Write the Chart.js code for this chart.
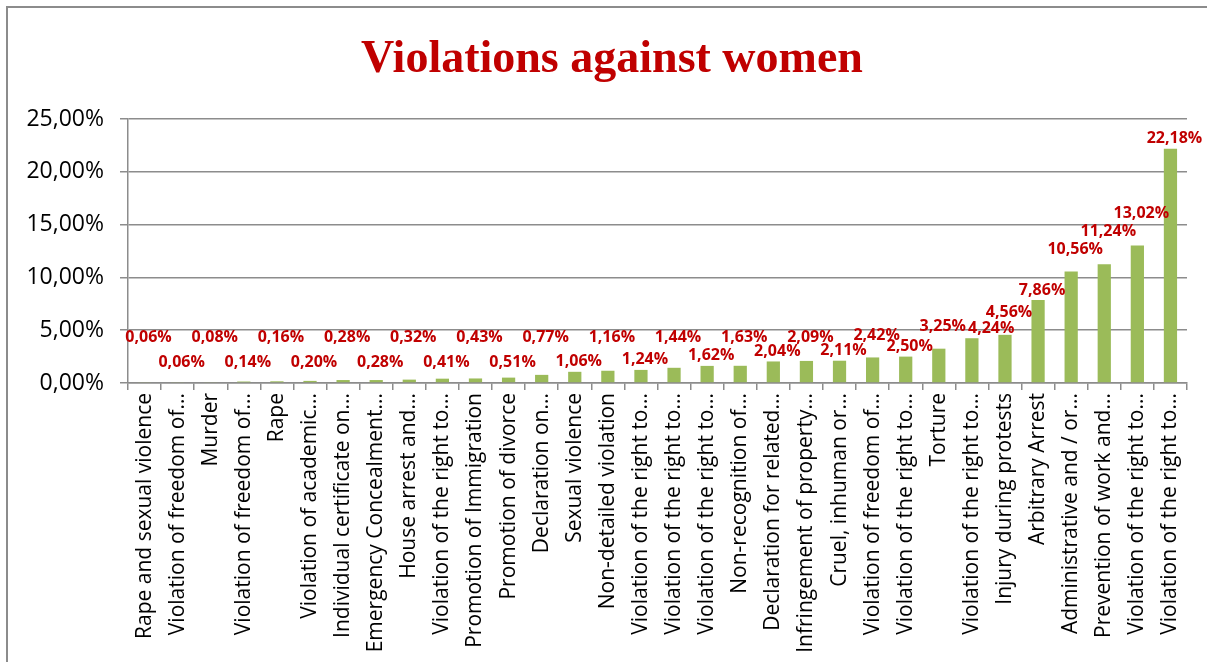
<!DOCTYPE html>
<html>
<head>
<meta charset="utf-8">
<script src="https://cdn.jsdelivr.net/npm/chart.js@4/dist/chart.umd.min.js"></script>
<style>
  html, body { margin: 0; padding: 0; background: #fff; overflow: hidden; }
</style>
</head>
<body>
<canvas id="women-chart" width="1207" height="662"></canvas>
<script>
// categories as shown on the axis (Excel truncated the long ones)
const categories = [
    'Rape and sexual violence', 'Violation of freedom of...', 'Murder', 'Violation of freedom of...',
    'Rape', 'Violation of academic...', 'Individual certificate on...', 'Emergency Concealment...',
    'House arrest and...', 'Violation of the right to...', 'Promotion of Immigration', 'Promotion of divorce',
    'Declaration on...', 'Sexual violence', 'Non-detailed violation', 'Violation of the right to...',
    'Violation of the right to...', 'Violation of the right to...', 'Non-recognition of...', 'Declaration for related...',
    'Infringement of property...', 'Cruel, inhuman or...', 'Violation of freedom of...', 'Violation of the right to...',
    'Torture', 'Violation of the right to...', 'Injury during protests', 'Arbitrary Arrest',
    'Administrative and / or...', 'Prevention of work and...', 'Violation of the right to...', 'Violation of the right to...'
];

const percentages = [
    0.06, 0.06, 0.08, 0.14, 0.16, 0.20, 0.28, 0.28,
    0.32, 0.41, 0.43, 0.51, 0.77, 1.06, 1.16, 1.24,
    1.44, 1.62, 1.63, 2.04, 2.09, 2.11, 2.42, 2.50,
    3.25, 4.24, 4.56, 7.86, 10.56, 11.24, 13.02, 22.18
];

const yTicks = [0, 5, 10, 15, 20, 25];

const chartTitle = 'Violations against women';

const fmt = v => v.toFixed(2).replace('.', ',') + '%';

// white background, frame and title (drawn by hand so it sits where Excel put it)
const framePlugin = {
    id: 'frame',
    beforeDraw(chart) {
        const ctx = chart.ctx;
        ctx.save();
        ctx.fillStyle = '#fff';
        ctx.fillRect(0, 0, chart.width, chart.height);
        ctx.strokeStyle = '#8c8c8c';
        ctx.lineWidth = 2;
        ctx.strokeRect(7, 7, chart.width + 40, chart.height + 40);

        ctx.font = 'bold 46px "Liberation Serif", "Times New Roman", serif';
        ctx.fillStyle = '#C00000';
        ctx.textAlign = 'center';
        ctx.textBaseline = 'alphabetic';
        ctx.fillText(chartTitle, 612, 72);
        ctx.restore();
    }
};

// value labels, staggered up / down like Excel did, moved when they collide
const valueLabels = {
    id: 'valueLabels',
    afterDatasetsDraw(chart) {
        const ctx = chart.ctx;
        const meta = chart.getDatasetMeta(0);
        const zero = chart.scales.y.getPixelForValue(0);
        ctx.save();
        ctx.font = 'bold 16px "Open Sans"';
        ctx.fillStyle = '#C00000';
        ctx.textAlign = 'center';
        ctx.textBaseline = 'middle';
        let prev = null;
        meta.data.forEach((bar, i) => {
            const text = fmt(percentages[i]);
            const w = ctx.measureText(text).width;
            let x = bar.x + 4;
            let y;
            if (i % 2 === 0) {
                y = Math.min(bar.y - 22, zero - 46);
            } else {
                y = Math.min(bar.y - 10, zero - 21);
            }
            if (prev && Math.abs(prev.y - y) < 9) {
                const overlap = (prev.w + w) / 2 - (x - prev.x);
                if (overlap > 0 && overlap <= 16) {
                    x += overlap + 2;
                } else if (overlap > 0) {
                    y = prev.y - 18;
                }
            }
            ctx.fillText(text, x, y);
            prev = { x, y, w };
        });
        ctx.restore();
    }
};

const ctx = document.getElementById('women-chart').getContext('2d');

new Chart(ctx, {
    type: 'bar',
    data: {
        labels: categories,
        datasets: [
            {
                label: chartTitle,
                data: percentages,
                backgroundColor: '#9BBB59',
                barPercentage: 0.4,
                categoryPercentage: 1,
            },
        ],
    },
    options: {
        responsive: false,
        animation: false,
        layout: { padding: { top: 119, left: 8, right: 20, bottom: 0 } },
        plugins: {
            legend: { display: false },
            tooltip: { enabled: false },
            title: { display: false },
        },
        scales: {
            x: {
                grid: { drawOnChartArea: false, drawTicks: true, tickLength: 7, color: '#8c8c8c', lineWidth: 1.5 },
                border: { display: true, color: '#8c8c8c', width: 1.5 },
                ticks: {
                    autoSkip: false,
                    maxRotation: 90,
                    minRotation: 90,
                    padding: 3,
                    color: '#000',
                    font: { family: '"Open Sans"', size: 21 },
                },
                afterFit(scale) { scale.height = 279; },
            },
            y: {
                min: 0,
                max: 25,
                afterBuildTicks(scale) { scale.ticks = yTicks.map(v => ({ value: v })); },
                grid: { color: '#8c8c8c', lineWidth: 1.5, tickLength: 8 },
                border: { display: true, color: '#8c8c8c', width: 1.5 },
                ticks: {
                    color: '#000',
                    padding: 16,
                    font: { family: '"Open Sans"', size: 23 },
                    callback: v => fmt(v),
                },
                afterFit(scale) { scale.width = 120; },
            },
        },
    },
    plugins: [framePlugin, valueLabels],
});
</script>
</body>
</html>
